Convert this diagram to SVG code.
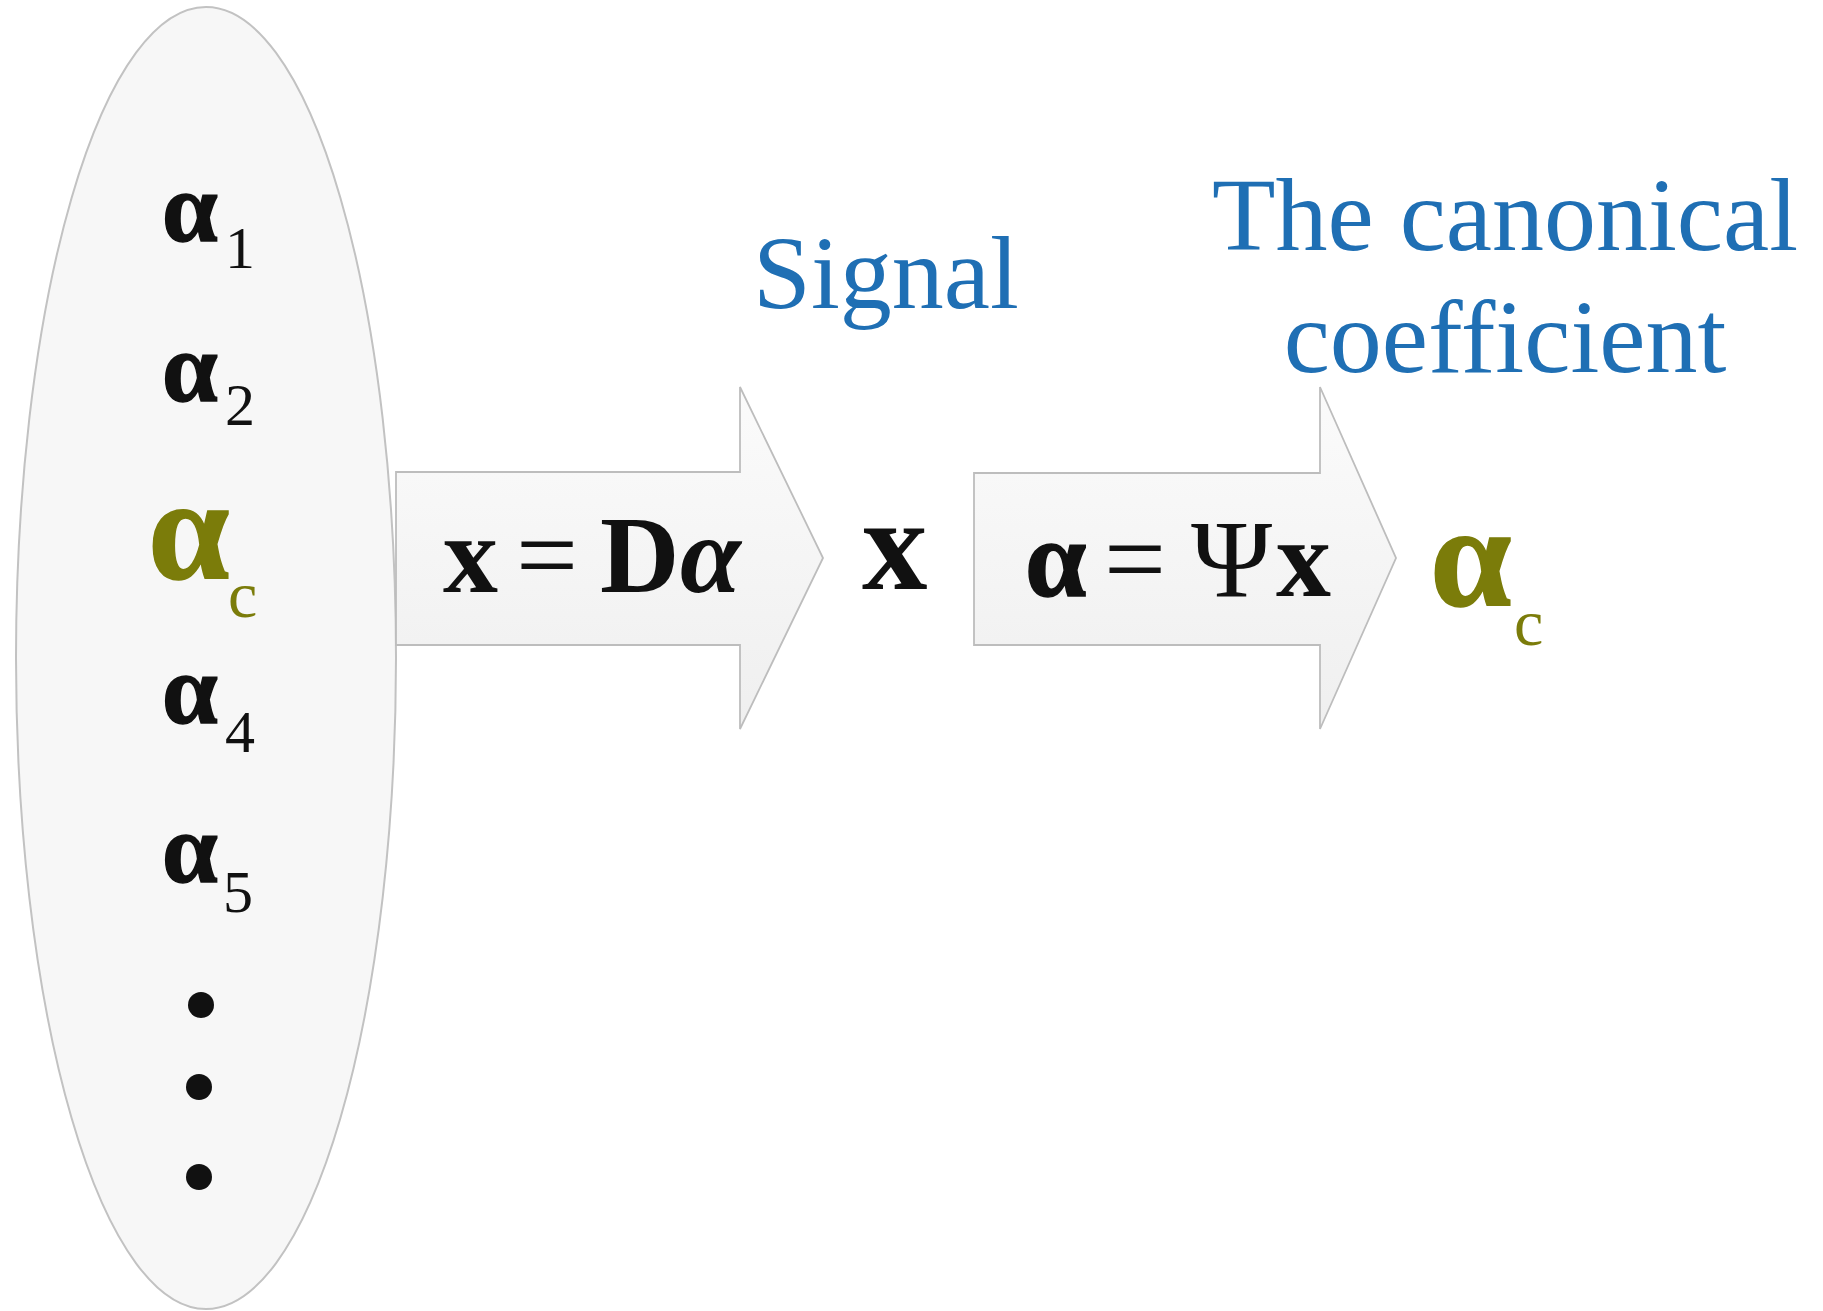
<svg xmlns="http://www.w3.org/2000/svg" width="1823" height="1311" viewBox="0 0 1823 1311">
<defs>
<linearGradient id="arrowFill" x1="0" y1="0" x2="0" y2="1">
<stop offset="0" stop-color="#fbfbfb"/>
<stop offset="1" stop-color="#efefef"/>
</linearGradient>
</defs>
<style>
.serif{font-family:"Liberation Serif","Times New Roman",serif}
.a{font-weight:bold;font-size:100px;fill:#111;stroke:#111;stroke-width:1.5}
.abig{font-size:146px;stroke:#7b7c0a}
.sub{font-size:60px;fill:#111}
.subc{font-size:66px}
.olive{fill:#7b7c0a}
.blue{font-size:104px;fill:#1f6fb4;text-anchor:middle}
.eq{font-size:110px;fill:#111}
.arrow{fill:url(#arrowFill);stroke:#bdbdbd;stroke-width:1.8}
.dot{fill:#111}
</style>
<rect width="1823" height="1311" fill="#ffffff"/>

<g id="coefficient-set">
<ellipse cx="206" cy="658" rx="190" ry="651" fill="#f7f7f7" stroke="#c2c2c2" stroke-width="2"/>
<text class="serif a" x="162" y="241">α</text><text class="serif sub" x="225" y="268">1</text>
<text class="serif a" x="162" y="401">α</text><text class="serif sub" x="225" y="425">2</text>
<text class="serif a abig olive" x="148" y="579">α</text><text class="serif sub subc olive" x="228" y="617">c</text>
<text class="serif a" x="162" y="723">α</text><text class="serif sub" x="225" y="752">4</text>
<text class="serif a" x="162" y="882">α</text><text class="serif sub" x="223" y="912">5</text>
<circle class="dot" cx="201" cy="1005" r="13"/>
<circle class="dot" cx="199" cy="1087" r="13"/>
<circle class="dot" cx="199" cy="1177" r="13"/>
</g>

<g id="connectors">
<g id="synthesis-arrow">
<polygon class="arrow" points="396,472 740,472 740,387 823,558 740,729 740,645 396,645"/>
<text class="serif eq" y="592"><tspan x="443" font-weight="bold">x</tspan><tspan x="516">=</tspan><tspan x="600" font-weight="bold">D</tspan><tspan x="680" font-weight="bold" font-style="italic">α</tspan></text>
</g>
<g id="analysis-arrow">
<polygon class="arrow" points="974,473 1320,473 1320,387 1396,558 1320,729 1320,645 974,645"/>
<text class="serif eq" y="596"><tspan x="1025" font-weight="bold" style="stroke:#111;stroke-width:1.5">α</tspan><tspan x="1104">=</tspan><tspan x="1191">Ψ</tspan><tspan x="1276" font-weight="bold">x</tspan></text>
</g>
</g>

<g id="signal">
<text class="serif blue" x="886" y="308">Signal</text>
<text class="serif" x="862" y="589" font-size="131" font-weight="bold" fill="#111">x</text>
</g>

<g id="canonical-coefficient">
<text class="serif blue" x="1505" y="250">The canonical</text>
<text class="serif blue" x="1505" y="372">coefficient</text>
<text class="serif a abig olive" x="1430" y="606">α</text>
<text class="serif olive" x="1514" y="645" font-size="66">c</text>
</g>
</svg>
